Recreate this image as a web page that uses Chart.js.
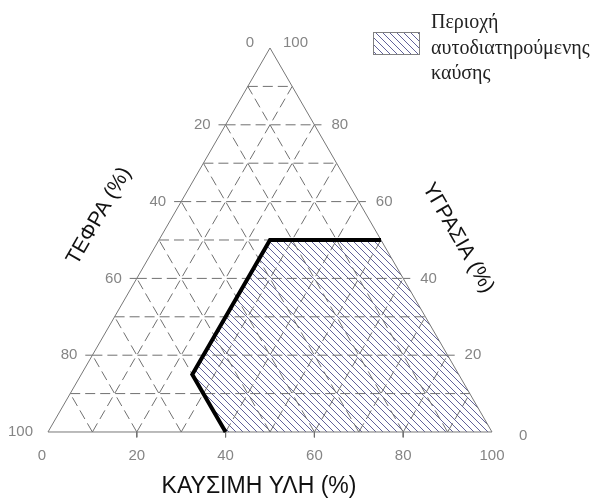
<!DOCTYPE html>
<html>
<head>
<meta charset="utf-8">
<script src="https://cdn.jsdelivr.net/npm/chart.js@4.4.0/dist/chart.umd.min.js"></script>
<style>
body{margin:0;background:#fff;}
#wrap{width:614px;height:499px;}
</style>
</head>
<body>
<div id="wrap"><canvas id="graph1" width="614" height="499"></canvas></div>
<script>
// grid every 10%, ticks every 20%
var gridLevels = [10,20,30,40,50,60,70,80,90];
var tickLevels = [20,40,60,80];

// tick labels of the three sides
var ashTicks   = [0,20,40,60,80,100];   // ΤΕΦΡΑ, left side (top -> bottom)
var moistTicks = [100,80,60,40,20,0];   // ΥΓΡΑΣΙΑ, right side (top -> bottom)
var fuelTicks  = [0,20,40,60,80,100];   // ΚΑΥΣΙΜΗ ΥΛΗ, base

// limit of self sustained combustion (fuel %, moisture %)
var limitFuel  = [40,25,25,50];
var limitMoist = [0,15,50,50];

var titles = ['ΚΑΥΣΙΜΗ ΥΛΗ (%)','ΤΕΦΡΑ (%)','ΥΓΡΑΣΙΑ (%)'];
var legendLines = ['Περιοχή','αυτοδιατηρούμενης','καύσης'];

// fuel/moisture -> plane
function pt(fuel,moist){
  return {x: fuel + moist/2, y: moist};
}

function makeHatch(size){
  var c = document.createElement('canvas');
  c.width = size; c.height = size;
  var g = c.getContext('2d');
  g.strokeStyle = '#62629a';
  g.lineWidth = 1;
  g.beginPath();
  g.moveTo(-1,-1); g.lineTo(size+1,size+1);
  g.moveTo(-1,size-1); g.lineTo(1,size+1);
  g.moveTo(size-1,-1); g.lineTo(size+1,1);
  g.stroke();
  return g.createPattern(c,'repeat');
}
var hatch = makeHatch(7);

var GRID = '#707070';
var sets = [];

function seg(a,b,opt){
  var d = {data:[a,b], showLine:true, pointRadius:0, pointHoverRadius:0,
           borderColor:GRID, borderWidth:1, fill:false, order:2};
  for (var k in opt) d[k] = opt[k];
  sets.push(d);
}

// hatched region
var region = [];
for (var i=0;i<limitFuel.length;i++) region.push(pt(limitFuel[i],limitMoist[i]));
region.push(pt(100,0));
sets.push({data:region, showLine:true, pointRadius:0, borderWidth:0,
  borderColor:'rgba(0,0,0,0)', backgroundColor:hatch, fill:'shape', order:4});

// dashed grid
gridLevels.forEach(function(v){
  seg(pt(0,v), pt(100-v,v), {borderDash:[10,5]});        // moisture constant
  seg(pt(v,0), pt(v,100-v), {borderDash:[10,5]});        // fuel constant
  seg(pt(100-v,0), pt(0,100-v), {borderDash:[10,5]});    // ash constant
});

// small ticks outside the triangle
tickLevels.forEach(function(v){
  var l = pt(0,v), r = pt(100-v,v);
  seg({x:l.x-1.6,y:v}, l, {});
  seg(r, {x:r.x+1.6,y:v}, {});
  seg({x:v,y:0}, {x:v,y:-1.4}, {});
});

// outline
sets.push({data:[pt(0,0),pt(100,0),pt(0,100),pt(0,0)], showLine:true, pointRadius:0,
  borderColor:'#777', borderWidth:1, fill:false, order:1});

// limit line
var limit = [];
for (var j=0;j<limitFuel.length;j++) limit.push(pt(limitFuel[j],limitMoist[j]));
sets.push({data:limit, showLine:true, pointRadius:0, borderColor:'#000',
  borderWidth:4, borderJoinStyle:'miter', borderCapStyle:'butt', fill:false, order:0});

var labels = {
  id:'ternaryLabels',
  afterDraw: function(chart){
    var ctx = chart.ctx, xs = chart.scales.x, ys = chart.scales.y;
    function P(p){ return [xs.getPixelForValue(p.x), ys.getPixelForValue(p.y)]; }
    ctx.save();
    ctx.font = '15px "Liberation Sans", Arial, sans-serif';
    ctx.fillStyle = '#858585';
    ctx.textBaseline = 'middle';

    ashTicks.forEach(function(a){
      var q = P(pt(0,100-a));
      ctx.textAlign='right';
      if (a === 0) ctx.fillText(a, q[0]-16, q[1]-5);
      else ctx.fillText(a, q[0]-15, q[1]);
    });
    moistTicks.forEach(function(m){
      var q = P(pt(100-m,m));
      ctx.textAlign='left';
      if (m === 100) ctx.fillText(m, q[0]+13, q[1]-5);
      else if (m === 0) ctx.fillText(m, q[0]+27, q[1]+4);
      else ctx.fillText(m, q[0]+17, q[1]);
    });
    fuelTicks.forEach(function(f){
      var q = P(pt(f,0));
      ctx.textAlign='center';
      ctx.fillText(f, f === 0 ? q[0]-6 : q[0], q[1]+24);
    });

    // axis titles
    ctx.fillStyle = '#111';
    ctx.font = '23px "Liberation Sans", Arial, sans-serif';
    ctx.textAlign = 'center';
    ctx.fillText(titles[0], 259, 487);
    ctx.font = '21px "Liberation Sans", Arial, sans-serif';
    ctx.save(); ctx.translate(99,216); ctx.rotate(-Math.PI/3);
    ctx.fillText(titles[1], 0, 0); ctx.restore();
    ctx.save(); ctx.translate(458,238); ctx.rotate(Math.PI/3);
    ctx.fillText(titles[2], 0, 0); ctx.restore();

    // legend
    ctx.fillStyle = hatch;
    ctx.fillRect(373,32,47,23);
    ctx.strokeStyle = '#808080'; ctx.lineWidth = 1;
    ctx.strokeRect(373.5,32.5,46,22);
    ctx.fillStyle = '#222';
    ctx.font = '20px "Liberation Serif", "Times New Roman", serif';
    ctx.textAlign = 'left';
    ctx.textBaseline = 'alphabetic';
    legendLines.forEach(function(s,k){ ctx.fillText(s, 431, 28 + k*25.5); });
    ctx.restore();
  }
};

new Chart(document.getElementById('graph1'), {
  type:'scatter',
  data:{datasets:sets},
  options:{
    responsive:false,
    animation:false,
    events:[],
    layout:{padding:0, autoPadding:false},
    plugins:{legend:{display:false}, tooltip:{enabled:false}},
    scales:{
      x:{type:'linear', display:false, min:-10.81, max:127.48},
      y:{type:'linear', display:false, min:-17.45, max:112.5}
    }
  },
  plugins:[labels]
});
</script>
</body>
</html>
